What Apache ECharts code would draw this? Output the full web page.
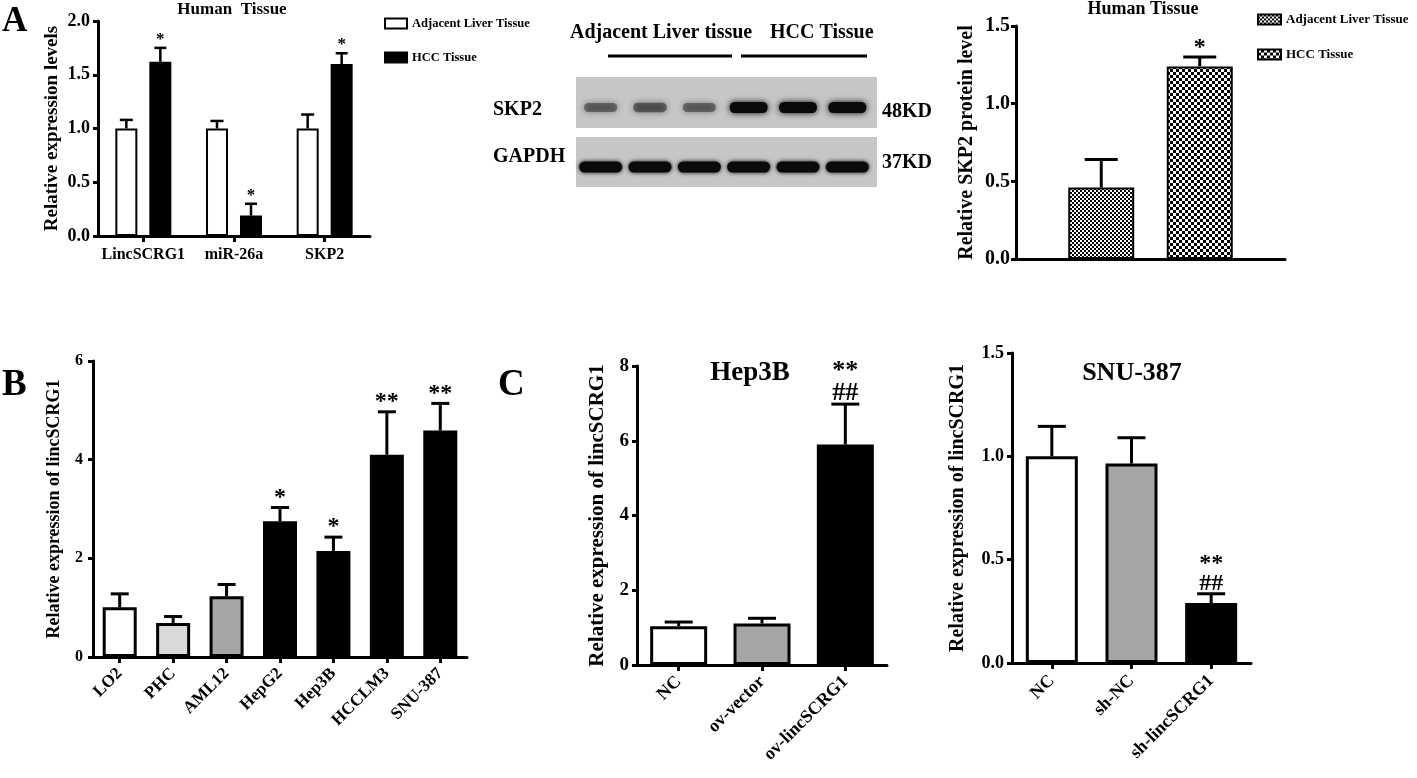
<!DOCTYPE html>
<html>
<head>
<meta charset="utf-8">
<script src="https://cdn.jsdelivr.net/npm/echarts@6.0.0/dist/echarts.min.js"></script>
<style>
  html, body { margin: 0; padding: 0; background: #fff; }
  #chart { width: 1417px; height: 778px; }
</style>
</head>
<body>
<div id="chart"></div>
<script>
const FONT = '"Liberation Serif", "Times New Roman", serif'

// A, left: qPCR in human tissue
const tissueGenes = ['LincSCRG1', 'miR-26a', 'SKP2']
const tissueAdjacent = [1.0, 1.0, 1.0]
const tissueAdjacentErr = [1.08, 1.07, 1.13]
const tissueHcc = [1.62, 0.19, 1.60]
const tissueHccErr = [1.75, 0.30, 1.70]
const tissueHccSig = ['*', '*', '*']

// A, western blot (relative band darkness per lane)
const blotLanes = ['1', '2', '3', '4', '5', '6']
const skp2Band = [0.4, 0.45, 0.4, 1, 1, 1]
const gapdhBand = [1, 1, 1, 1, 1, 1]

// A, right: SKP2 protein
const proteinGroups = ['Adjacent Liver Tissue', 'HCC Tissue']
const proteinLevel = [0.46, 1.24]
const proteinErr = [0.64, 1.30]
const proteinSig = ['', '*']

// B: cell lines
const cellLines = ['LO2', 'PHC', 'AML12', 'HepG2', 'Hep3B', 'HCCLM3', 'SNU-387']
const cellExpr = [1.01, 0.69, 1.23, 2.75, 2.15, 4.10, 4.59]
const cellErr = [1.28, 0.82, 1.47, 3.03, 2.43, 4.97, 5.14]
const cellSig = ['', '', '', '*', '*', '**', '**']
const cellFill = ['#ffffff', '#d9d9d9', '#a6a6a6', '#000000', '#000000', '#000000', '#000000']

// C: Hep3B overexpression, SNU-387 knockdown
const hep3bGroups = ['NC', 'ov-vector', 'ov-lincSCRG1']
const hep3bExpr = [1.04, 1.11, 5.90]
const hep3bErr = [1.15, 1.25, 6.98]
const hep3bSig = ['', '', '**\n##']
const snuGroups = ['NC', 'sh-NC', 'sh-lincSCRG1']
const snuExpr = [1.00, 0.965, 0.29]
const snuErr = [1.145, 1.09, 0.335]
const snuSig = ['', '', '**\n##']
const threeFill = ['#ffffff', '#a6a6a6', '#000000']

// checker patterns for the protein bars
function pattern(size, cells) {
  const c = document.createElement('canvas')
  c.width = c.height = size
  const ctx = c.getContext('2d')
  ctx.fillStyle = '#000'
  ctx.fillRect(0, 0, size, size)
  ctx.fillStyle = '#fff'
  cells.forEach(r => ctx.fillRect(r[0], r[1], r[2], r[3]))
  return { image: c, repeat: 'repeat' }
}
const fineDots = pattern(4, [[0, 0, 2, 2], [2, 2, 2, 2]])
const coarseChecks = pattern(6, [[0, 0, 3, 3], [3, 3, 3, 3]])

const bold = (size) => ({ fontFamily: FONT, fontWeight: 'bold', fontSize: size, color: '#000' })

function xAx(gridIndex, data, o) {
  return {
    type: 'category', gridIndex, data,
    axisLine: { show: true, lineStyle: { color: '#000', width: 3 } },
    axisTick: { show: o.tick !== false, alignWithLabel: true, length: 6, lineStyle: { color: '#000', width: 3 } },
    axisLabel: { show: o.label !== false, interval: 0, rotate: o.rotate || 0, margin: o.margin || 10, ...bold(o.size || 16) },
    splitLine: { show: false }
  }
}

function yAx(gridIndex, max, interval, name, o) {
  return {
    type: 'value', gridIndex, min: 0, max, interval, name,
    nameLocation: 'middle', nameGap: o.nameGap, nameRotate: 90, nameMoveOverlap: false,
    nameTextStyle: bold(o.nameSize),
    axisLine: { show: true, lineStyle: { color: '#000', width: 3 } },
    axisTick: { show: true, length: 5, lineStyle: { color: '#000', width: 3 } },
    axisLabel: { margin: o.margin, formatter: o.fmt, ...bold(o.size) },
    splitLine: { show: false }
  }
}

function errorBars(axis, means, tops, sigs, o) {
  return {
    type: 'custom', xAxisIndex: axis, yAxisIndex: axis, z: 5, silent: true,
    data: means.map((m, i) => [i, m, tops[i]]),
    renderItem(params, api) {
      const i = api.value(0)
      const base = api.coord([i, api.value(1)])
      const top = api.coord([i, api.value(2)])
      const dx = Array.isArray(o.dx) ? o.dx[i] : (o.dx || 0)
      const x = base[0] + dx
      const st = { stroke: '#000', lineWidth: o.lw }
      const kids = [
        { type: 'line', shape: { x1: x, y1: base[1], x2: x, y2: top[1] }, style: st },
        { type: 'line', shape: { x1: x - o.cap / 2, y1: top[1], x2: x + o.cap / 2, y2: top[1] }, style: st }
      ]
      const s = sigs && sigs[i]
      if (s) {
        kids.push({
          type: 'text', x, y: top[1] - o.sigGap,
          style: { text: s, fill: '#000', font: `bold ${o.sigSize}px ${FONT}`, align: 'center', verticalAlign: 'bottom', lineHeight: o.sigLine || o.sigSize }
        })
      }
      return { type: 'group', children: kids }
    }
  }
}

const band = 'path://M5,0 H35 A5,5 0 0 1 35,10 H5 A5,5 0 0 1 5,0 Z'
const text = (x, y, s, size, align) => ({
  type: 'text', x, y,
  style: { text: s, font: `bold ${size}px ${FONT}`, fill: '#000', align: align || 'left', verticalAlign: 'middle' }
})

const chart = echarts.init(document.getElementById('chart'))
chart.setOption({
  animation: false,
  backgroundColor: '#fff',
  grid: [
    { left: 98, top: 21, width: 272, height: 215, outerBoundsMode: 'none' },
    { left: 1016, top: 26, width: 269, height: 233, outerBoundsMode: 'none' },
    { left: 576, top: 77, width: 296, height: 51, outerBoundsMode: 'none' },
    { left: 576, top: 137, width: 296, height: 50, outerBoundsMode: 'none' },
    { left: 93, top: 361, width: 374, height: 296, outerBoundsMode: 'none' },
    { left: 637, top: 366, width: 250, height: 299, outerBoundsMode: 'none' },
    { left: 1012, top: 353, width: 239, height: 310, outerBoundsMode: 'none' }
  ],
  xAxis: [
    xAx(0, tissueGenes, { size: 16, margin: 11 }),
    xAx(1, proteinGroups, { tick: false, label: false }),
    { type: 'category', gridIndex: 2, data: blotLanes, show: false },
    { type: 'category', gridIndex: 3, data: blotLanes, show: false },
    xAx(4, cellLines, { size: 17, rotate: 45, margin: 14 }),
    xAx(5, hep3bGroups, { size: 18, rotate: 45, margin: 14 }),
    xAx(6, snuGroups, { size: 18, rotate: 45, margin: 15 })
  ],
  yAxis: [
    yAx(0, 2, 0.5, 'Relative expression levels', { nameGap: 36, nameSize: 19, size: 18, margin: 8, fmt: v => v.toFixed(1) }),
    yAx(1, 1.5, 0.5, 'Relative SKP2 protein level', { nameGap: 39, nameSize: 20, size: 20, margin: 6, fmt: v => v.toFixed(1) }),
    { type: 'category', gridIndex: 2, data: ['SKP2'], show: false },
    { type: 'category', gridIndex: 3, data: ['GAPDH'], show: false },
    yAx(4, 6, 2, 'Relative expression of lincSCRG1', { nameGap: 30, nameSize: 18, size: 16, margin: 10, fmt: v => String(v) }),
    yAx(5, 8, 2, 'Relative expression of lincSCRG1', { nameGap: 29, nameSize: 21, size: 19, margin: 8, fmt: v => String(v) }),
    yAx(6, 1.5, 0.5, 'Relative expression of lincSCRG1', { nameGap: 44, nameSize: 20, size: 18, margin: 8, fmt: v => v.toFixed(1) })
  ],
  legend: [
    {
      left: 384, top: 17, padding: 0, orient: 'vertical', icon: 'rect', itemWidth: 22, itemHeight: 10, itemGap: 21,
      selectedMode: false, data: ['Adjacent Liver Tissue', 'HCC Tissue'], textStyle: bold(12.5)
    },
    {
      left: 1257, top: 13, padding: 0, orient: 'vertical', icon: 'rect', itemWidth: 23, itemHeight: 10, itemGap: 22,
      selectedMode: false, data: ['Adjacent Liver Tissue ', 'HCC Tissue '], textStyle: bold(13)
    }
  ],
  graphic: [
    text(2, 22, 'A', 35),
    text(2, 385, 'B', 37),
    text(498, 385, 'C', 37),
    text(232, 10, 'Human  Tissue', 17, 'center'),
    text(1143, 9, 'Human Tissue', 18, 'center'),
    text(570, 33, 'Adjacent Liver tissue', 20),
    text(770, 33, 'HCC Tissue', 20),
    { type: 'line', shape: { x1: 608, y1: 56, x2: 732, y2: 56 }, style: { stroke: '#000', lineWidth: 3 } },
    { type: 'line', shape: { x1: 741, y1: 56, x2: 867, y2: 56 }, style: { stroke: '#000', lineWidth: 3 } },
    { type: 'rect', shape: { x: 576, y: 77, width: 301, height: 51 }, style: { fill: '#c6c6c6' }, z: -10 },
    { type: 'rect', shape: { x: 576, y: 137, width: 301, height: 50 }, style: { fill: '#c6c6c6' }, z: -10 },
    text(493, 110, 'SKP2', 20),
    text(493, 157, 'GAPDH', 20),
    text(882, 112, '48KD', 20),
    text(882, 163, '37KD', 20)
    ,
    text(750, 373, 'Hep3B', 27, 'center'),
    text(1132, 373, 'SNU-387', 26, 'center')
  ],
  series: [
    // A left
    {
      type: 'bar', name: 'Adjacent Liver Tissue', xAxisIndex: 0, yAxisIndex: 0, data: tissueAdjacent,
      barWidth: 22, barGap: '54.5%', itemStyle: { color: '#fff', borderColor: '#000', borderWidth: 2 }
    },
    {
      type: 'bar', name: 'HCC Tissue', xAxisIndex: 0, yAxisIndex: 0, data: tissueHcc,
      barWidth: 22, itemStyle: { color: '#000', borderColor: '#000', borderWidth: 2 }
    },
    errorBars(0, tissueAdjacent, tissueAdjacentErr, null, { dx: -17, lw: 2.5, cap: 13 }),
    errorBars(0, tissueHcc, tissueHccErr, tissueHccSig, { dx: 17, lw: 2.5, cap: 12, sigGap: 0, sigSize: 17 }),
    // A blot
    {
      type: 'scatter', xAxisIndex: 2, yAxisIndex: 2, symbol: band, symbolOffset: [0, 5],
      symbolSize: (val, p) => [30 + 8 * skp2Band[p.dataIndex], 8 + 3 * skp2Band[p.dataIndex]],
      data: skp2Band.map((v, i) => ({ value: [i, 0], itemStyle: { opacity: v } })),
      itemStyle: { color: '#0a0a0a', shadowBlur: 6, shadowColor: '#0a0a0a' }
    },
    {
      type: 'scatter', xAxisIndex: 3, yAxisIndex: 3, symbol: band, symbolSize: [43, 11], symbolOffset: [0, 5],
      data: gapdhBand.map((v, i) => ({ value: [i, 0], itemStyle: { opacity: v } })),
      itemStyle: { color: '#0a0a0a', shadowBlur: 4, shadowColor: '#0a0a0a' }
    },
    // A right
    {
      type: 'bar', name: 'Adjacent Liver Tissue ', xAxisIndex: 1, yAxisIndex: 1, data: [proteinLevel[0], '-'],
      barWidth: 66, barGap: '-154.5%', itemStyle: { color: fineDots, borderColor: '#000', borderWidth: 2 }
    },
    {
      type: 'bar', name: 'HCC Tissue ', xAxisIndex: 1, yAxisIndex: 1, data: ['-', proteinLevel[1]],
      barWidth: 66, itemStyle: { color: coarseChecks, borderColor: '#000', borderWidth: 2 }
    },
    errorBars(1, proteinLevel, proteinErr, proteinSig, { dx: [18, -18], lw: 3, cap: 33, sigGap: -3, sigSize: 24 }),
    // B
    {
      type: 'bar', xAxisIndex: 4, yAxisIndex: 4, barWidth: 34,
      data: cellExpr.map((v, i) => ({ value: v, itemStyle: { color: cellFill[i] } })),
      itemStyle: { borderColor: '#000', borderWidth: 3 }
    },
    errorBars(4, cellExpr, cellErr, cellSig, { lw: 3, cap: 18, sigGap: -2, sigSize: 24 }),
    // C left
    {
      type: 'bar', xAxisIndex: 5, yAxisIndex: 5, barWidth: 57,
      data: hep3bExpr.map((v, i) => ({ value: v, itemStyle: { color: threeFill[i] } })),
      itemStyle: { borderColor: '#000', borderWidth: 3 }
    },
    errorBars(5, hep3bExpr, hep3bErr, hep3bSig, { lw: 3, cap: 28, sigGap: 0, sigSize: 26, sigLine: 22 }),
    // C right
    {
      type: 'bar', xAxisIndex: 6, yAxisIndex: 6, barWidth: 52,
      data: snuExpr.map((v, i) => ({ value: v, itemStyle: { color: threeFill[i] } })),
      itemStyle: { borderColor: '#000', borderWidth: 3 }
    },
    errorBars(6, snuExpr, snuErr, snuSig, { lw: 3, cap: 28, sigGap: 0, sigSize: 24, sigLine: 20 })
  ]
})
</script>
</body>
</html>
